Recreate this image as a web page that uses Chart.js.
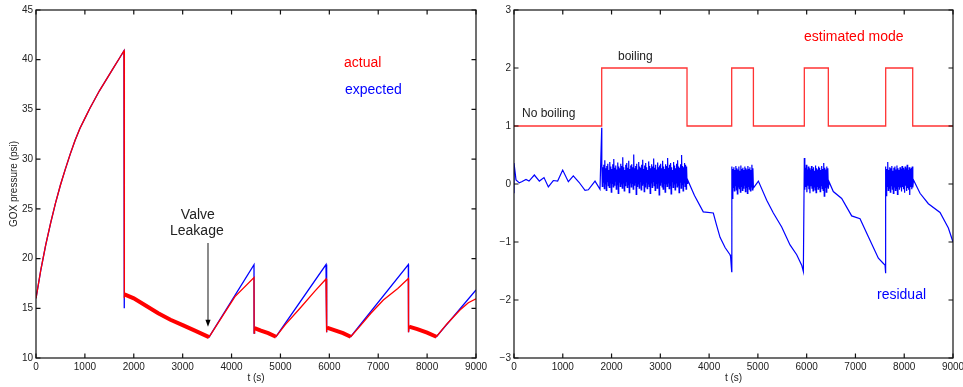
<!DOCTYPE html>
<html><head><meta charset="utf-8">
<script src="https://cdn.jsdelivr.net/npm/chart.js@4.4.1/dist/chart.umd.min.js"></script>
<style>
html,body{margin:0;padding:0;background:#fff;overflow:hidden;width:963px;height:387px;}
#c1{position:absolute;left:0;top:0;}
#c2{position:absolute;left:480px;top:0;}
</style></head><body>
<canvas id="c1" width="491" height="387"></canvas>
<canvas id="c2" width="493" height="387"></canvas>
<script>
// ---------- data ----------
const timeTicks = [0,1000,2000,3000,4000,5000,6000,7000,8000,9000];
const pressureTicks = [10,15,20,25,30,35,40,45];
const residualTicks = [-3,-2,-1,0,1,2,3];

const expectedT = [0,100,200,300,400,500,600,700,800,900,1000,1100,1200,1300,1400,1500,1600,1700,1800,
  1801,1810,2000,2250,2500,2750,3000,3250,3539,4459,4462,4470,4600,4750,4909,5932,5940,5950,6100,6280,6437,
  7616,7620,7630,7800,8000,8190,9000];
const expectedP = [16.0,18.9,21.4,23.6,25.6,27.4,29.0,30.5,31.9,33.1,34.1,35.1,36.0,36.9,37.7,38.5,39.3,40.1,40.9,
  15.0,16.4,16.0,15.25,14.5,13.85,13.3,12.75,12.1,19.38,12.5,13.0,12.75,12.5,12.14,19.4,12.6,13.05,12.8,12.5,12.14,
  19.4,12.6,13.15,12.9,12.55,12.14,16.84];

const actualT = [0,100,200,300,400,500,600,700,800,900,1000,1100,1200,1300,1400,1500,1600,1700,1800,
  1805,1810,2000,2250,2500,2750,3000,3250,3539,4070,4459,4462,4470,4600,4750,4909,5100,5400,5700,5932,5940,5950,
  6100,6280,6437,6628,6850,7105,7400,7616,7620,7630,7800,8000,8190,8400,8672,8843,9000];
const actualP = [16.0,18.9,21.4,23.6,25.6,27.4,29.0,30.5,31.9,33.1,34.1,35.1,36.0,36.9,37.7,38.5,39.3,40.1,40.9,
  16.0,16.4,16.0,15.25,14.5,13.85,13.3,12.75,12.1,16.17,18.08,12.5,13.0,12.75,12.5,12.14,13.35,15.0,16.7,17.95,12.6,13.05,
  12.8,12.5,12.14,13.2,14.5,15.83,17.0,18.0,12.6,13.15,12.9,12.55,12.14,13.4,14.83,15.56,15.95];

const modeT = [0,1798,3547,4463,4908,5952,6444,7620,8174,9000];
const modeV = [1,2,1,2,1,2,1,2,1,1];

// residual, smooth parts
const resSmooth0T = [0,0,41,109,157,246,308,417,520,615,704,806,895,998,1114,1216,1333,1456,1524,1661,1763,1798];
const resSmooth0V = [-0.16,0.36,0.07,0.02,0.04,0.08,0.05,0.155,0.05,0.11,-0.05,0.06,0.05,0.24,0.04,0.14,0.03,-0.11,-0.10,0.05,-0.09,0.97];
const resSmooth1T = [3560,3700,3880,4086,4150,4224,4330,4429,4440,4463];
const resSmooth1V = [0.07,-0.2,-0.48,-0.5,-0.7,-0.92,-1.1,-1.22,-1.25,-1.51];
const resSmooth2T = [4925,5010,5181,5317,5488,5659,5796,5898,5932];
const resSmooth2V = [-0.05,0.05,-0.28,-0.5,-0.74,-1.05,-1.22,-1.4,-1.51];
const resSmooth3T = [6458,6546,6718,6923,7094,7265,7470,7573,7607,7618];
const resSmooth3V = [0.04,-0.13,-0.25,-0.55,-0.6,-0.91,-1.28,-1.37,-1.4,-1.54];
const resSmooth4T = [8190,8324,8495,8734,8905,9000];
const resSmooth4V = [0.07,-0.16,-0.34,-0.49,-0.76,-1.0];

// residual, noisy parts (sample values of the jitter, high/low alternating)
const noise1Span = [1800,3548];
const noise1 = [0.36,-0.04,0.29,0.03,0.33,-0.08,0.41,0.00,0.27,-0.11,0.31,0.04,0.35,-0.03,0.24,-0.06,0.38,0.02,0.30,-0.14,
  0.26,0.01,0.34,-0.05,0.43,-0.02,0.28,0.05,0.32,-0.09,0.25,-0.01,0.37,-0.16,0.30,0.03,0.27,-0.04,0.35,0.00,
  0.31,-0.07,0.46,0.02,0.29,-0.12,0.24,-0.03,0.33,0.04,0.36,-0.06,0.28,-0.01,0.40,-0.15,0.26,0.02,0.32,-0.05,
  0.34,0.01,0.29,-0.09,0.51,-0.02,0.27,0.03,0.31,-0.18,0.35,-0.04,0.25,0.00,0.38,-0.07,0.30,0.04,0.28,-0.10,
  0.33,-0.02,0.42,0.01,0.26,-0.13,0.32,-0.05,0.36,0.03,0.29,-0.08,0.24,0.00,0.39,-0.04,0.31,-0.16,0.27,0.02,
  0.34,-0.06,0.30,0.04,0.44,-0.03,0.28,-0.11,0.33,0.01,0.25,-0.07,0.37,0.02,0.29,-0.19,0.32,-0.02,0.35,0.03,
  0.27,-0.05,0.40,-0.09,0.30,0.01,0.26,-0.14,0.34,0.00,0.31,-0.04,0.45,0.02,0.28,-0.08,0.33,-0.03,0.36,-0.17,
  0.29,0.04,0.24,-0.06,0.38,0.00,0.32,-0.10,0.27,0.02,0.35,-0.05,0.41,-0.02,0.30,-0.15,0.28,0.03,0.34,-0.07,
  0.50,-0.01,0.31,-0.12,0.29,0.02,0.36,-0.04,0.33,-0.09,0.30,0.01];
const noise2Span = [4466,4908];
const noise2 = [0.30,-0.25,0.26,-0.06,0.29,-0.12,0.24,-0.03,0.31,-0.10,0.27,-0.17,0.25,-0.05,0.30,-0.08,0.23,-0.14,0.32,-0.04,
  0.26,-0.11,0.28,-0.07,0.24,-0.02,0.30,-0.13,0.27,-0.06,0.25,-0.16,0.31,-0.04,0.26,-0.09,0.29,-0.12,0.24,-0.05,0.33,-0.10,0.27,-0.07];
const noise3Span = [5952,6444];
const noise3 = [0.45,-0.10,0.28,-0.05,0.33,-0.14,0.25,-0.03,0.30,-0.09,0.27,-0.16,0.24,-0.04,0.31,-0.08,0.26,-0.12,0.29,-0.05,
  0.23,-0.10,0.32,-0.15,0.27,-0.04,0.25,-0.09,0.30,-0.06,0.28,-0.13,0.24,-0.03,0.31,-0.08,0.26,-0.11,0.36,-0.21,
  0.28,-0.06,0.25,-0.14,0.30,-0.05,0.27,-0.08];
const noise4Span = [7620,8176];
const noise4 = [0.30,-0.20,0.26,-0.04,0.38,-0.11,0.24,-0.07,0.29,-0.14,0.27,-0.03,0.31,-0.09,0.23,-0.16,0.28,-0.05,0.30,-0.11,
  0.25,-0.08,0.32,-0.18,0.27,-0.04,0.24,-0.10,0.29,-0.06,0.26,-0.13,0.31,-0.05,0.28,-0.09,0.25,-0.15,0.30,-0.03,
  0.27,-0.12,0.33,-0.07,0.24,-0.10,0.29,-0.19,0.26,-0.05,0.28,-0.09,0.30,-0.06];

// ---------- build ----------
const zip = (T,V) => T.map((t,i)=>({x:t,y:V[i]}));
const sampled = (span,V) => V.map((v,i)=>({x: span[0] + (span[1]-span[0])*i/(V.length-1), y:v}));
const residualPts = [].concat(
  zip(resSmooth0T,resSmooth0V), sampled(noise1Span,noise1),
  zip(resSmooth1T,resSmooth1V), sampled(noise2Span,noise2),
  zip(resSmooth2T,resSmooth2V), sampled(noise3Span,noise3),
  zip(resSmooth3T,resSmooth3V), sampled(noise4Span,noise4),
  zip(resSmooth4T,resSmooth4V));

const FONT = '"Liberation Sans", Arial, Helvetica, sans-serif';
const TXT = '#222';

const framePlugin = {
  id:'frame',
  afterDatasetsDraw(chart){
    const {ctx, chartArea:a, scales:{x,y}} = chart;
    ctx.save();
    ctx.strokeStyle='#111'; ctx.lineWidth=1.2;
    const L=a.left, R=a.right, T=a.top, B=a.bottom;
    ctx.strokeRect(L,T,R-L,B-T);
    ctx.beginPath();
    x.ticks.forEach(t=>{const p=x.getPixelForValue(t.value); ctx.moveTo(p,B); ctx.lineTo(p,B-4.5); ctx.moveTo(p,T); ctx.lineTo(p,T+4.5);});
    y.ticks.forEach(t=>{const p=y.getPixelForValue(t.value); ctx.moveTo(L,p); ctx.lineTo(L+4.5,p); ctx.moveTo(R,p); ctx.lineTo(R-4.5,p);});
    ctx.stroke();
    ctx.restore();
  }
};
const notesPlugin = {
  id:'notes',
  afterDatasetsDraw(chart, args, opts){
    const {ctx, scales:{x,y}} = chart;
    ctx.save();
    (opts.arrows||[]).forEach(a=>{
      const px=x.getPixelForValue(a.x), y0=y.getPixelForValue(a.y0), y1=y.getPixelForValue(a.y1);
      ctx.strokeStyle='#777'; ctx.lineWidth=1.7;
      ctx.beginPath(); ctx.moveTo(px,y0); ctx.lineTo(px,y1-6); ctx.stroke();
      ctx.fillStyle='#000';
      ctx.beginPath(); ctx.moveTo(px,y1); ctx.lineTo(px-2.6,y1-7); ctx.lineTo(px+2.6,y1-7); ctx.closePath(); ctx.fill();
    });
    (opts.texts||[]).forEach(t=>{
      ctx.font = t.size+'px '+FONT;
      ctx.fillStyle = t.color;
      ctx.textAlign = t.align||'left';
      ctx.textBaseline = 'middle';
      ctx.fillText(t.text, x.getPixelForValue(t.x), y.getPixelForValue(t.y));
    });
    ctx.restore();
  }
};

function axisX(){
  return {type:'linear', min:0, max:9000,
    afterBuildTicks: s=>{ s.ticks = timeTicks.map(v=>({value:v})); },
    ticks:{autoSkip:false, maxRotation:0, padding:3, color:TXT, font:{family:FONT,size:10}, callback:v=>String(v)},
    grid:{display:false, drawTicks:false}, border:{display:false},
    title:{display:true, text:'t (s)', color:TXT, font:{family:FONT,size:10}, padding:{top:0,bottom:3}},
    afterFit: s=>{ s.height = 29; }};
}
function axisY(min,max,ticks,width,title){
  const o = {type:'linear', min, max,
    afterBuildTicks: s=>{ s.ticks = ticks.map(v=>({value:v})); },
    ticks:{padding:3, color:TXT, font:{family:FONT,size:10}, callback:v=> (v<0? '\u2212'+Math.abs(v) : String(v))},
    grid:{display:false, drawTicks:false}, border:{display:false},
    afterFit: s=>{ s.width = width; }};
  if (title) o.title = {display:true, text:title, color:TXT, font:{family:FONT,size:10}, padding:{top:8,bottom:0}};
  return o;
}
const common = {responsive:false, animation:false, devicePixelRatio:1, events:[],
  elements:{point:{radius:0}, line:{tension:0}}};

new Chart(document.getElementById('c1'), {
  type:'line',
  data:{datasets:[
    {label:'actual', data:zip(actualT,actualP), borderColor:'#ff0000', borderWidth:1.3,
     segment:{borderWidth: c => (c.p1.parsed.x > c.p0.parsed.x && c.p0.parsed.y - c.p1.parsed.y >= 0 && c.p0.parsed.y - c.p1.parsed.y < 2) ? 4 : 1.3}},
    {label:'expected', data:zip(expectedT,expectedP), borderColor:'#0000ff', borderWidth:1.3}
  ]},
  options:Object.assign({}, common, {
    layout:{padding:{top:10,right:15,left:0,bottom:0}},
    plugins:{legend:{display:false}, tooltip:{enabled:false},
      notes:{
        arrows:[{x:3518, y0:21.57, y1:13.15}],
        texts:[
          {text:'actual', x:6300, y:39.67, color:'#ff0000', size:14},
          {text:'expected', x:6320, y:36.95, color:'#0000ff', size:14},
          {text:'Valve', x:3310, y:24.4, color:TXT, size:14, align:'center'},
          {text:'Leakage', x:3290, y:22.8, color:TXT, size:14, align:'center'}
        ]}},
    scales:{x:axisX(), y:axisY(10,45,pressureTicks,36,'GOX pressure (psi)')}
  }),
  plugins:[framePlugin, notesPlugin]
});

new Chart(document.getElementById('c2'), {
  type:'line',
  data:{datasets:[
    {label:'residual', data:residualPts, borderColor:'#0000ff', borderWidth:1.2},
    {label:'estimated mode', data:zip(modeT,modeV), borderColor:'rgba(255,0,0,0.8)', borderWidth:1.3, stepped:true}
  ]},
  options:Object.assign({}, common, {
    layout:{padding:{top:10,right:20,left:0,bottom:0}},
    plugins:{legend:{display:false}, tooltip:{enabled:false},
      notes:{texts:[
        {text:'estimated mode', x:5945, y:2.53, color:'#ff0000', size:14},
        {text:'boiling', x:2132, y:2.19, color:TXT, size:12},
        {text:'No boiling', x:164, y:1.21, color:TXT, size:12},
        {text:'residual', x:7442, y:-1.91, color:'#0000ff', size:14}
      ]}},
    scales:{x:axisX(), y:axisY(-3,3,residualTicks,34,null)}
  }),
  plugins:[framePlugin, notesPlugin]
});
</script></body></html>
